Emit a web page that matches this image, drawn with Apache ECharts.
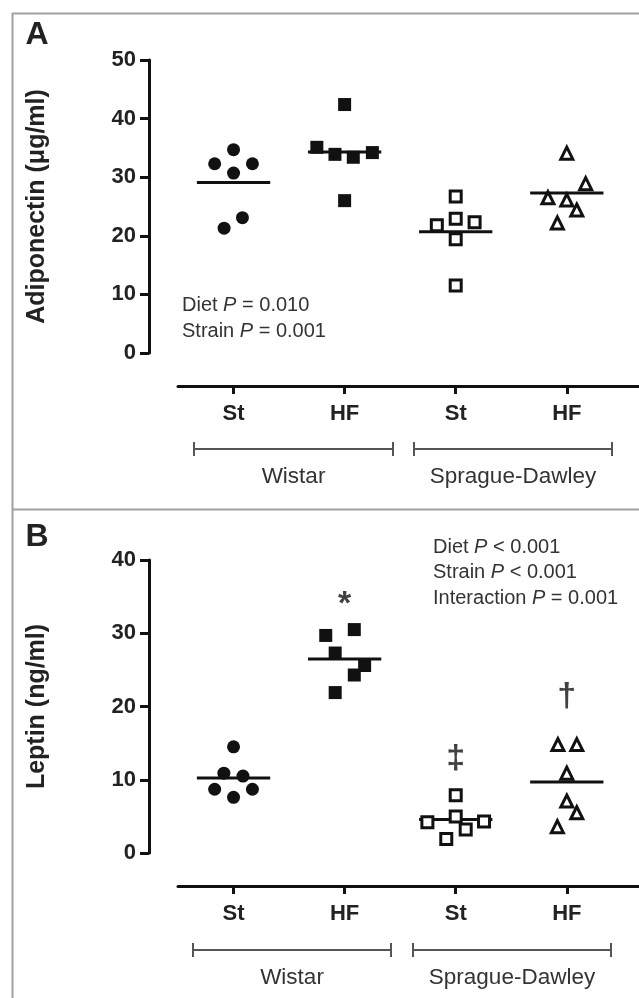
<!DOCTYPE html>
<html>
<head>
<meta charset="utf-8">
<script src="https://cdn.jsdelivr.net/npm/echarts@6/dist/echarts.min.js"></script>
<style>
    html, body { margin: 0; padding: 0; background: #fff; }
    #chart { width: 639px; height: 998px; }
</style>
</head>
<body>
<div id="chart"></div>
<script>
// x categories and strain groups
const groups = ['St', 'HF', 'St', 'HF'];
const strains = ['Wistar', 'Sprague-Dawley'];

// A: adiponectin (µg/ml), one array per group
const adipoWistarSt = [34.7, 32.3, 32.3, 30.7, 23.1, 21.3];
const adipoWistarHF = [35.1, 33.9, 33.4, 34.2, 42.4, 26.0];
const adipoSdSt = [26.7, 22.9, 21.8, 22.3, 19.4, 11.5];
const adipoSdHF = [34.1, 26.5, 26.1, 28.9, 24.4, 22.2];
const adipoMeans = [29.1, 34.3, 20.7, 27.3];
const adipoTicks = [0, 10, 20, 30, 40, 50];

// B: leptin (ng/ml)
const leptinWistarSt = [14.5, 10.9, 10.5, 8.7, 8.7, 7.6];
const leptinWistarHF = [29.7, 30.5, 27.3, 25.6, 24.3, 21.9];
const leptinSdSt = [7.9, 4.2, 5.0, 4.3, 3.2, 1.9];
const leptinSdHF = [14.8, 14.8, 10.9, 7.1, 5.5, 3.6];
const leptinMeans = [10.25, 26.5, 4.56, 9.7];
const leptinTicks = [0, 10, 20, 30, 40];
// significance marks: [group, height, symbol]
const leptinMarks = [[2, 35.1, '*'], [3, 13.2, '‡'], [4, 21.6, '†']];

// horizontal spread of the dots inside each column (category units)
const adipoSpread = [
    [0, -0.17, 0.17, 0, 0.08, -0.085],
    [-0.25, -0.087, 0.078, 0.25, 0, 0],
    [0, 0, -0.17, 0.17, 0, 0],
    [0, -0.17, 0, 0.17, 0.09, -0.085]
];
const leptinSpread = [
    [0, -0.087, 0.085, -0.17, 0.17, 0],
    [-0.17, 0.087, -0.085, 0.18, 0.087, -0.085],
    [0, -0.255, 0, 0.255, 0.09, -0.085],
    [-0.08, 0.09, 0, 0, 0.09, -0.085]
];

const FONT = '"Liberation Sans", Arial, Helvetica, sans-serif';
const INK = '#111';

const markerStyles = [
    { symbol: 'circle', symbolSize: 13, itemStyle: { color: INK, opacity: 1 } },
    { symbol: 'rect', symbolSize: 13, itemStyle: { color: INK, opacity: 1 } },
    { symbol: 'rect', symbolSize: 11, itemStyle: { color: '#fff', borderColor: INK, borderWidth: 3, opacity: 1 } },
    { symbol: 'triangle', symbolSize: 12, itemStyle: { color: '#fff', borderColor: INK, borderWidth: 3, opacity: 1 } }
];

function panelSeries(idx, cols, spread, means) {
    const out = [];
    cols.forEach((vals, g) => {
        out.push(Object.assign({
            type: 'scatter',
            xAxisIndex: idx,
            yAxisIndex: idx,
            data: vals.map((v, i) => [g + 1 + spread[g][i], v]),
            z: 3
        }, markerStyles[g]));
        out.push({
            type: 'line',
            xAxisIndex: idx,
            yAxisIndex: idx,
            data: [[g + 1 - 0.33, means[g]], [g + 1 + 0.33, means[g]]],
            symbol: 'none',
            lineStyle: { color: INK, width: 3 },
            z: 2
        });
    });
    return out;
}

function xAxisFor(idx) {
    return {
        type: 'value',
        gridIndex: idx,
        min: 0.5,
        max: 4.65,
        offset: 33,
        axisLine: { show: true, onZero: false, lineStyle: { color: INK, width: 3 } },
        axisTick: { show: true, customValues: [1, 2, 3, 4], length: 8, lineStyle: { color: INK, width: 3 } },
        axisLabel: {
            customValues: [1, 2, 3, 4],
            formatter: v => groups[Math.round(v) - 1],
            fontFamily: FONT, fontSize: 22, fontWeight: 'bold', color: '#222', margin: 17
        },
        splitLine: { show: false }
    };
}

function yAxisFor(idx, ticks, name) {
    return {
        type: 'value',
        gridIndex: idx,
        min: ticks[0],
        max: ticks[ticks.length - 1],
        interval: ticks[1] - ticks[0],
        offset: 29,
        name: name,
        nameLocation: 'middle',
        nameGap: 99,
        nameTextStyle: { fontFamily: FONT, fontSize: 25, fontWeight: 'bold', color: '#222' },
        axisLine: { show: true, onZero: false, lineStyle: { color: INK, width: 3 } },
        axisTick: { show: true, length: 9, lineStyle: { color: INK, width: 3 } },
        axisLabel: { fontFamily: FONT, fontSize: 22, fontWeight: 'bold', color: '#222', margin: 13 },
        splitLine: { show: false }
    };
}

function statText(x, y, label, op, val) {
    return {
        type: 'text', x: x, y: y,
        style: {
            text: label + ' {i|P} ' + op + ' ' + val,
            rich: { i: { fontStyle: 'italic', fontFamily: FONT, fontSize: 20, fill: '#333' } },
            fontFamily: FONT, fontSize: 20, fill: '#333', verticalAlign: 'middle'
        }
    };
}

function bracket(x1, x2, y) {
    const s = { stroke: '#555', lineWidth: 2 };
    return [
        { type: 'line', shape: { x1: x1, y1: y, x2: x2, y2: y }, style: s },
        { type: 'line', shape: { x1: x1, y1: y - 7, x2: x1, y2: y + 7 }, style: s },
        { type: 'line', shape: { x1: x2, y1: y - 7, x2: x2, y2: y + 7 }, style: s }
    ];
}

function groupLabel(x, y, text) {
    return {
        type: 'text', x: x, y: y,
        style: { text: text, fontFamily: FONT, fontSize: 22.5, fill: '#333', align: 'center', verticalAlign: 'middle' }
    };
}

function panelLetter(y, text) {
    return {
        type: 'text', x: 37, y: y,
        style: { text: text, fontFamily: FONT, fontSize: 32, fontWeight: 'bold', fill: '#222', align: 'center', verticalAlign: 'middle' }
    };
}

const frame = { stroke: '#a0a0a0', lineWidth: 2 };

const marksSeries = {
    type: 'scatter',
    xAxisIndex: 1,
    yAxisIndex: 1,
    symbolSize: 1,
    itemStyle: { color: 'rgba(0,0,0,0)' },
    data: leptinMarks.map(m => ({
        value: [m[0], m[1]],
        label: {
            show: true, position: 'inside', formatter: m[2],
            fontFamily: FONT, color: INK,
            fontSize: m[2] === '*' ? 34 : 34,
            fontWeight: 'bold',
            offset: m[2] === '*' ? [0, 9] : [0, 2]
        }
    }))
};

const chart = echarts.init(document.getElementById('chart'), null, { renderer: 'canvas' });
chart.setOption({
    animation: false,
    backgroundColor: '#fff',
    grid: [
        { left: 178, top: 60, width: 461, height: 293 },
        { left: 178, top: 560, width: 461, height: 293 }
    ],
    xAxis: [xAxisFor(0), xAxisFor(1)],
    yAxis: [
        yAxisFor(0, adipoTicks, 'Adiponectin (μg/ml)'),
        yAxisFor(1, leptinTicks, 'Leptin (ng/ml)')
    ],
    series: [
        ...panelSeries(0, [adipoWistarSt, adipoWistarHF, adipoSdSt, adipoSdHF], adipoSpread, adipoMeans),
        ...panelSeries(1, [leptinWistarSt, leptinWistarHF, leptinSdSt, leptinSdHF], leptinSpread, leptinMeans),
        marksSeries
    ],
    graphic: [
        { type: 'line', shape: { x1: 12.5, y1: 13, x2: 12.5, y2: 998 }, style: frame },
        { type: 'line', shape: { x1: 12, y1: 13.5, x2: 639, y2: 13.5 }, style: frame },
        { type: 'line', shape: { x1: 12, y1: 509.5, x2: 639, y2: 509.5 }, style: frame },
        panelLetter(35, 'A'),
        panelLetter(537, 'B'),
        statText(182, 305, 'Diet', '=', '0.010'),
        statText(182, 331, 'Strain', '=', '0.001'),
        statText(433, 547, 'Diet', '<', '0.001'),
        statText(433, 572, 'Strain', '<', '0.001'),
        statText(433, 598, 'Interaction', '=', '0.001'),
        ...bracket(194, 393, 449),
        ...bracket(414, 612, 449),
        groupLabel(293.5, 477, strains[0]),
        groupLabel(513, 477, strains[1]),
        ...bracket(193, 391, 950),
        ...bracket(413, 611, 950),
        groupLabel(292, 978, strains[0]),
        groupLabel(512, 978, strains[1])
    ]
});
</script>
</body>
</html>
